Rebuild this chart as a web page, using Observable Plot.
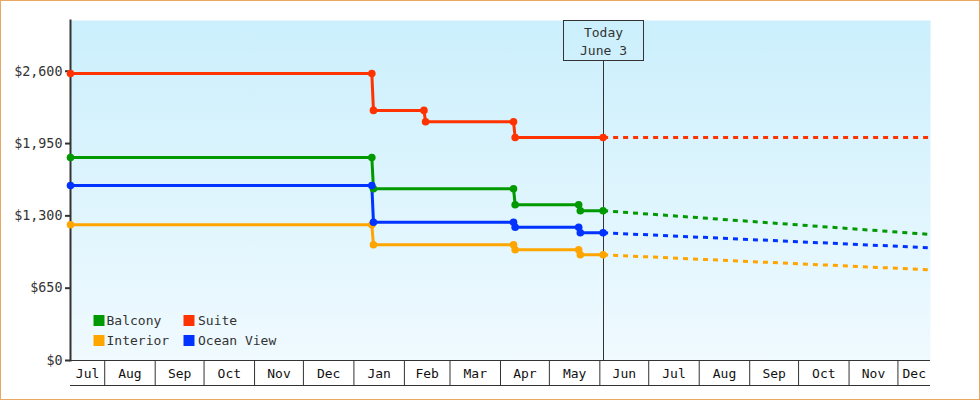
<!DOCTYPE html>
<html>
<head>
<meta charset="utf-8">
<script src="https://cdn.jsdelivr.net/npm/d3@7"></script>
<script src="https://cdn.jsdelivr.net/npm/@observablehq/plot@0.6"></script>
<style>
  body { margin: 0; background: #fff; }
  #wrap { position: relative; width: 980px; height: 400px; background: #fff; overflow: hidden; }
  #border { position: absolute; left: 0; top: 0; width: 980px; height: 400px; box-sizing: border-box; border: 1px solid #e8a862; pointer-events: none; }
  svg { display: block; }
</style>
</head>
<body>
<div id="wrap"><div id="chart"></div><div id="border"></div></div>
<script>
const parse = d3.utcParse("%Y-%m-%d");

const domainStart = "2024-07-11";
const domainEnd = "2025-12-21";
const today = "2025-06-03";
const todayLabel = ["Today", "June 3"];

const seriesNames = ["Balcony", "Interior", "Ocean View", "Suite"];
const seriesColors = ["#009900", "#ffa500", "#0033ff", "#ff3300"];
const legendOrder = ["Balcony", "Suite", "Interior", "Ocean View"];

const yTicks = [0, 650, 1300, 1950, 2600];

const balconyDates = ["2024-07-11", "2025-01-12", "2025-01-13", "2025-04-09", "2025-04-10", "2025-05-19", "2025-05-20", "2025-06-03"];
const balconyPrices = [1825, 1825, 1544, 1544, 1400, 1400, 1346, 1346];
const interiorDates = ["2024-07-11", "2025-01-12", "2025-01-13", "2025-04-09", "2025-04-10", "2025-05-19", "2025-05-20", "2025-06-03"];
const interiorPrices = [1220, 1220, 1040, 1040, 995, 995, 950, 950];
const oceanViewDates = ["2024-07-11", "2025-01-12", "2025-01-13", "2025-04-09", "2025-04-10", "2025-05-19", "2025-05-20", "2025-06-03"];
const oceanViewPrices = [1573, 1573, 1243, 1243, 1198, 1198, 1148, 1148];
const suiteDates = ["2024-07-11", "2025-01-12", "2025-01-13", "2025-02-13", "2025-02-14", "2025-04-09", "2025-04-10", "2025-06-03"];
const suitePrices = [2580, 2580, 2248, 2248, 2146, 2146, 2005, 2005];

const forecastDates = ["2025-06-03", "2025-12-21"];
const balconyForecast = [1346, 1133];
const interiorForecast = [950, 815];
const oceanViewForecast = [1148, 1013];
const suiteForecast = [2005, 2005];

function rows(name, dates, values) {
  return dates.map((d, i) => ({ series: name, date: parse(d), price: values[i] }));
}

const history = [
  ...rows("Balcony", balconyDates, balconyPrices),
  ...rows("Interior", interiorDates, interiorPrices),
  ...rows("Ocean View", oceanViewDates, oceanViewPrices),
  ...rows("Suite", suiteDates, suitePrices)
];
const forecast = [
  ...rows("Balcony", forecastDates, balconyForecast),
  ...rows("Interior", forecastDates, interiorForecast),
  ...rows("Ocean View", forecastDates, oceanViewForecast),
  ...rows("Suite", forecastDates, suiteForecast)
];

const x0 = parse(domainStart), x1 = parse(domainEnd);
const monthTicks = d3.utcMonth.range(d3.utcMonth.ceil(x0), x1);
const bands = d3.utcMonth.range(d3.utcMonth.floor(x0), x1).map(m => {
  const s = m < x0 ? x0 : m;
  const n = d3.utcMonth.offset(m, 1);
  const e = n > x1 ? x1 : n;
  return { mid: new Date((+s + +e) / 2), label: d3.utcFormat("%b")(m) };
});

const FONT = "DejaVu Sans Mono";

function gradientDefs() {
  const defs = d3.create("svg:defs");
  const lg = defs.append("linearGradient").attr("id", "bgGrad")
    .attr("x1", 0).attr("x2", 0).attr("y1", 0).attr("y2", 1);
  lg.append("stop").attr("offset", "0%").attr("stop-color", "#cbeffc");
  lg.append("stop").attr("offset", "100%").attr("stop-color", "#f0faff");
  return defs.node();
}

function todayMark(index, scales, values, dimensions) {
  const x = Math.round(scales.x(parse(today))) + 0.5;
  const top = dimensions.marginTop;
  const bottom = dimensions.height - dimensions.marginBottom;
  const g = d3.create("svg:g")
    .attr("font-family", FONT).attr("font-size", 13).attr("fill", "#333");
  g.append("line").attr("x1", x).attr("x2", x).attr("y1", top + 40).attr("y2", bottom)
    .attr("stroke", "#333").attr("stroke-width", 1);
  g.append("rect").attr("x", x - 40).attr("y", top + 0.5).attr("width", 80).attr("height", 40)
    .attr("fill", "none").attr("stroke", "#333");
  todayLabel.forEach((t, i) => {
    g.append("text").attr("x", x).attr("y", top + 12 + i * 18)
      .attr("text-anchor", "middle").attr("dy", "0.35em").text(t);
  });
  return g.node();
}

const legendMarks = legendOrder.flatMap((name, i) => {
  const col = i % 2, row = Math.floor(i / 2);
  return [
    Plot.dot([name], { frameAnchor: "bottom-left", dx: 28.5 + col * 90, dy: -40 + row * 20,
      symbol: "square", r: 6.2, fill: d => d }),
    Plot.text([name], { frameAnchor: "bottom-left", dx: 36 + col * 91.5, dy: -40 + row * 20,
      text: d => d, textAnchor: "start", lineAnchor: "middle", fontSize: 13, fill: "#333", fontFamily: FONT })
  ];
});

const chart = Plot.plot({
  width: 980,
  height: 400,
  marginLeft: 70,
  marginRight: 50,
  marginTop: 20,
  marginBottom: 40,
  style: { fontFamily: FONT, fontSize: "13px", background: "transparent", color: "#333" },
  x: { type: "utc", domain: [x0, x1] },
  y: { domain: [0, 3056] },
  color: { domain: seriesNames, range: seriesColors },
  marks: [
    gradientDefs,
    Plot.frame({ fill: "url(#bgGrad)", stroke: null }),
    Plot.ruleY([0], { stroke: "#333", strokeWidth: 1 }),
    Plot.ruleY([0], { stroke: "#333", strokeWidth: 1, dy: 25 }),
    Plot.axisX(monthTicks, { tickSize: 25, tickFormat: () => "", stroke: "#333", label: null }),
    Plot.text(bands, { x: "mid", frameAnchor: "bottom", dy: 13, text: "label", lineAnchor: "middle",
      fontSize: 13, fill: "#111", fontFamily: FONT }),
    Plot.axisY(yTicks, { tickSize: 5, tickPadding: 3, tickFormat: d3.format("$,"), label: null,
      fontSize: 13.4, color: "#333", strokeWidth: 2, fontFamily: FONT }),
    Plot.frame({ anchor: "left", stroke: "#333", strokeWidth: 2 }),
    todayMark,
    Plot.line(forecast, { x: "date", y: "price", z: "series", stroke: "series",
      strokeWidth: 3, strokeDasharray: "5,5", strokeLinecap: "butt" }),
    Plot.line(history, { x: "date", y: "price", z: "series", stroke: "series", strokeWidth: 3 }),
    Plot.dot(history, { x: "date", y: "price", fill: "series", r: 3.8 }),
    ...legendMarks
  ]
});

document.getElementById("chart").appendChild(chart);
</script>
</body>
</html>
